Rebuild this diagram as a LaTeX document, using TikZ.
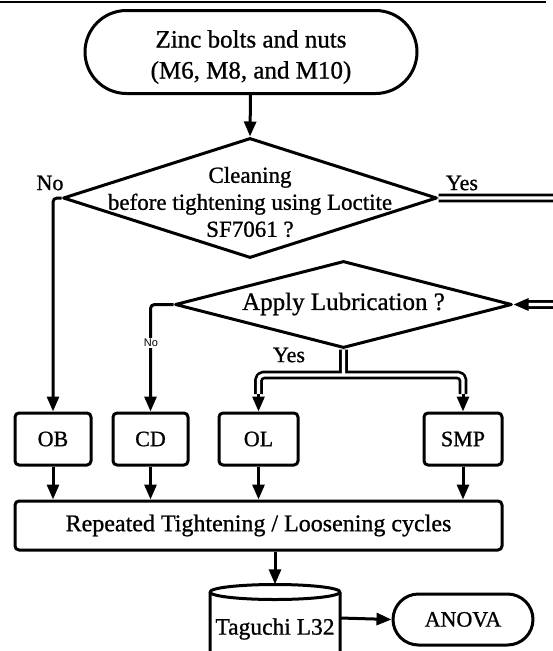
\documentclass[tikz,border=0pt]{standalone}
\usepackage{fontspec}
\setmainfont{Liberation Serif}[FakeBold=0.9]
\newfontfamily\lblsans{Liberation Sans}
\usetikzlibrary{shapes.geometric,shapes.misc,arrows.meta}
\begin{document}
\begin{tikzpicture}[x=1pt,y=-1pt,
  every node/.style={font=\fontsize{22}{27}\selectfont},
  ln/.style={line width=3pt, line join=round},
  arr/.style={ln, -{Triangle[length=15pt,width=12pt]}},
  dbl/.style={line width=2.7pt, double, double distance=3.4pt, line join=round, rounded corners=5pt},
  dia/.style={draw, ln, diamond, inner sep=0pt},
  term/.style={draw, ln, rounded rectangle, inner sep=0pt},
  box/.style={draw, ln, rounded corners=4pt, inner sep=0pt, minimum height=52pt},
]
\useasboundingbox (0,0) rectangle (553,651);
\clip (0,0) rectangle (553,651);
\draw[line width=2pt] (0,2) -- (546,2);
% nodes
\node[term, minimum width=332pt, minimum height=83pt] (start) at (251,52) {};
\node[align=center, font=\fontsize{25}{31}\selectfont] (starttxt) at (251,57) {Zinc bolts and nuts\\(M6, M8, and M10)};
\node[dia, minimum width=374pt, minimum height=120pt] (d1) at (250,198) {};
\node[align=center, font=\fontsize{23}{27}\selectfont] (d1txt) at (250,202) {Cleaning\\before tightening using Loctite\\SF7061 ?};
\node[dia, minimum width=337pt, minimum height=87pt] (d2) at (343.5,304.5) {};
\node[font=\fontsize{25}{30}\selectfont] (d2txt) at (343.5,304) {Apply Lubrication ?};
\node[box, minimum width=76pt] (ob) at (53,439) {OB};
\node[box, minimum width=75pt] (cd) at (150.5,439) {CD};
\node[box, minimum width=79pt] (ol) at (258.5,439) {OL};
\node[box, minimum width=78pt] (smp) at (463,439) {SMP};
\node[box, minimum width=487pt, minimum height=49pt, font=\fontsize{24}{28}\selectfont] (cyc) at (258.5,525.5) {Repeated Tightening / Loosening cycles};
% cylinder (Taguchi L32)
\node[minimum width=130pt, minimum height=80pt, inner sep=0pt] (tag) at (275,624.5) {};
\draw[ln, fill=white] (210,592) -- (210,668) arc[start angle=180, end angle=360, x radius=65pt, y radius=7.5pt] -- (340,592);
\draw[ln] (275,592) ellipse [x radius=65pt, y radius=7.5pt];
\node[font=\fontsize{23.5}{28}\selectfont] (tagtxt) at (275,629) {Taguchi L32};
\node[term, minimum width=140pt, minimum height=51pt] (anova) at (463,619.5) {ANOVA};
% labels
\node (no1) at (50,183) {No};
\node (yes1) at (462,183) {Yes};
\node (yes2) at (289,355) {Yes};
% connectors
\draw[arr] (start) -- (d1.north);
\draw[arr, rounded corners=4pt] (d1.west) -| (ob.north);
\draw[arr, rounded corners=4pt] (d2.west) -| (cd.north);
\node[fill=white, inner sep=1pt, font=\lblsans\fontsize{11}{12}\selectfont] (no2) at (151,343) {No};
\coordinate (yb) at (527,304.5);
\draw[dbl] (d1.east) -- (565,198) -- (565,304.5) -- (yb);
\draw[arr] (yb) -- (d2.east);
\coordinate (sp) at (343.5,375);
\coordinate (olb) at (258.5,394);
\coordinate (smpb) at (463,394);
\draw[dbl] (d2.south) -- (sp) (olb) |- (sp) -| (smpb);
\draw[arr] (olb) -- (ol.north);
\draw[arr] (smpb) -- (smp.north);
\draw[arr] (ob) -- (ob|-cyc.north);
\draw[arr] (cd) -- (cd|-cyc.north);
\draw[arr] (ol) -- (ol|-cyc.north);
\draw[arr] (smp) -- (smp|-cyc.north);
\draw[arr] (cyc.south-|tag) -- (tag.north);
\draw[arr] (340,618) -- (anova.west);
\end{tikzpicture}
\end{document}
